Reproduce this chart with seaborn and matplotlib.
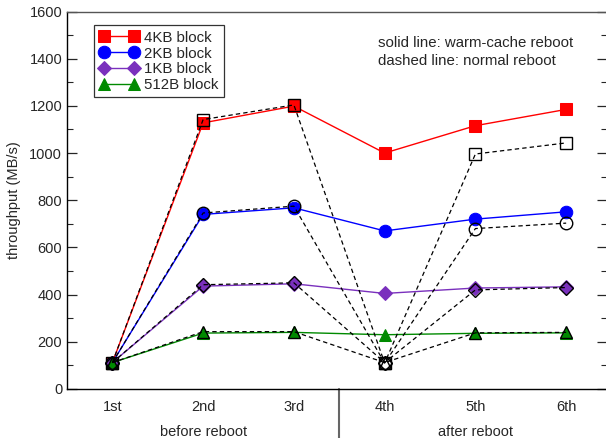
import matplotlib
matplotlib.use("Agg")
import matplotlib.pyplot as plt
import seaborn as sns
import pandas as pd
from matplotlib.ticker import MultipleLocator

# Read runs: three before reboot, three after
runs = ["1st", "2nd", "3rd", "4th", "5th", "6th"]
group_labels = ["before reboot", "after reboot"]

# Throughput (MB/s) with warm-cache reboot (solid)
warm_4kb = [112, 1128, 1199, 1000, 1116, 1185]
warm_2kb = [112, 740, 768, 670, 720, 751]
warm_1kb = [112, 436, 446, 405, 428, 433]
warm_512b = [112, 237, 240, 230, 236, 238]

# Throughput (MB/s) with normal reboot (dashed)
normal_4kb = [112, 1142, 1204, 110, 996, 1043]
normal_2kb = [112, 746, 775, 110, 680, 703]
normal_1kb = [112, 442, 450, 112, 420, 430]
normal_512b = [112, 243, 243, 112, 238, 240]

block_names = ["4KB block", "2KB block", "1KB block", "512B block"]
warm_series = [warm_4kb, warm_2kb, warm_1kb, warm_512b]
normal_series = [normal_4kb, normal_2kb, normal_1kb, normal_512b]

sns.set_style("ticks")
plt.rcParams["font.family"] = ["Liberation Sans", "DejaVu Sans"]

colors = ["#ff0000", "#0000ff", "#7a30bd", "#008a00"]
markers = ["s", "o", "D", "^"]
msizes = [8, 9, 7, 9]

fig = plt.figure(figsize=(6.06, 4.38), dpi=100)
ax = fig.add_axes([67 / 606, 1 - 389 / 438, (607 - 67) / 606, (389 - 11.5) / 438])

pos = list(range(len(runs)))

for name, vals, c, m, ms in zip(block_names, warm_series, colors, markers, msizes):
    df = pd.DataFrame({"run": pos, "throughput": vals})
    sns.lineplot(data=df, x="run", y="throughput", ax=ax, color=c, marker=m,
                 markersize=ms, markeredgecolor=c, linewidth=1.0, label=name,
                 zorder=3)

for vals, m, ms in zip(normal_series, markers, msizes):
    df = pd.DataFrame({"run": pos, "throughput": vals})
    sns.lineplot(data=df, x="run", y="throughput", ax=ax, color="black",
                 marker=m, markersize=ms, markerfacecolor="none",
                 markeredgecolor="black", markeredgewidth=1.0,
                 linestyle=(0, (3.5, 2.5)), linewidth=0.9, legend=False,
                 zorder=4)

ax.set_xlim(-0.5, 5.45)
ax.set_ylim(0, 1600)
ax.yaxis.set_major_locator(MultipleLocator(200))
ax.yaxis.set_minor_locator(MultipleLocator(100))
ax.set_xticks(pos)
ax.set_xticklabels(runs, fontsize=10.5)
ax.tick_params(axis="x", length=0, pad=8)
ax.tick_params(axis="y", which="major", direction="in", length=7, width=0.9,
               right=True, labelsize=10.5)
ax.tick_params(axis="y", which="minor", direction="in", length=4, width=0.8,
               right=True)
ax.set_xlabel("")
ax.set_ylabel("throughput (MB/s)", fontsize=10.5, labelpad=6)

for side in ["left", "bottom"]:
    ax.spines[side].set_linewidth(1.0)
    ax.spines[side].set_color("black")
for side in ["top", "right"]:
    ax.spines[side].set_visible(True)
    ax.spines[side].set_color("#555555")
    ax.spines[side].set_linewidth(1.0)

# Group labels and separator under the axis
ax.text(1, -0.115, group_labels[0], transform=ax.get_xaxis_transform(),
        ha="center", va="center", fontsize=10.5)
ax.text(4, -0.115, group_labels[1], transform=ax.get_xaxis_transform(),
        ha="center", va="center", fontsize=10.5)
ax.plot([2.5, 2.5], [0, -0.14], transform=ax.get_xaxis_transform(),
        color="#666666", linewidth=1.5, clip_on=False)

ax.text(0.575, 0.935, "solid line: warm-cache reboot\ndashed line: normal reboot",
        transform=ax.transAxes, ha="left", va="top", fontsize=10.8,
        linespacing=1.4)

leg = ax.legend(loc="upper left", bbox_to_anchor=(0.05, 0.963), numpoints=2,
                handlelength=2.6, fontsize=10.8, frameon=True, fancybox=False,
                borderpad=0.35, labelspacing=0.12, handletextpad=0.4,
                borderaxespad=0)
leg.get_frame().set_edgecolor("black")
leg.get_frame().set_linewidth(0.9)

fig.savefig("out.png", dpi=100)
